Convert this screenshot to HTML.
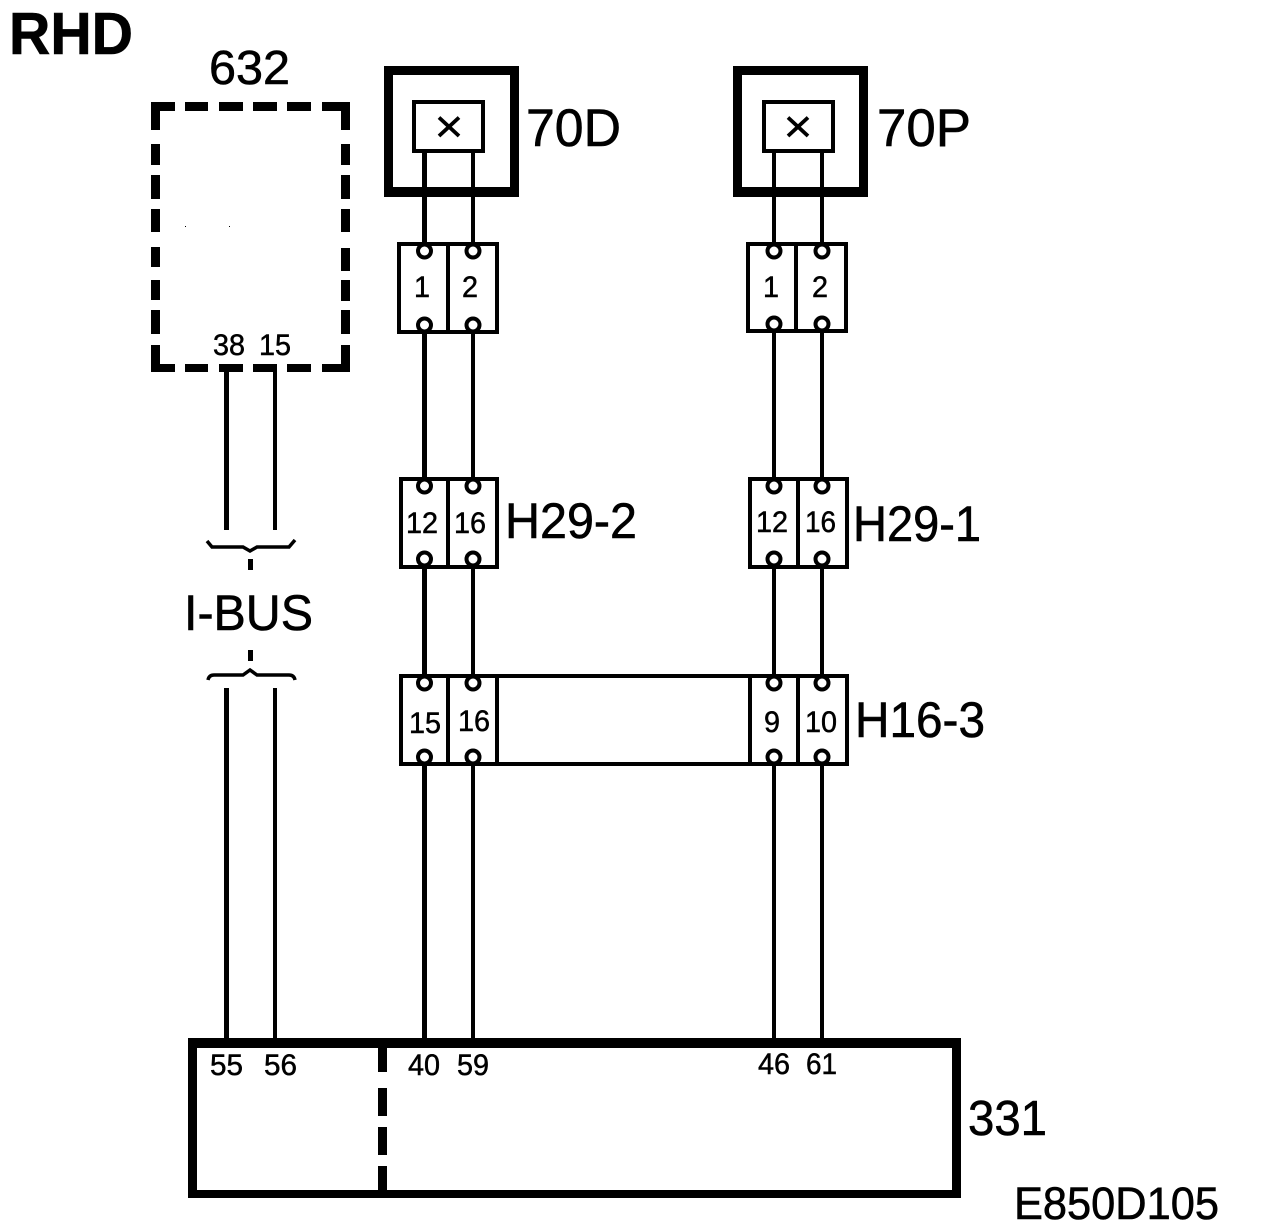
<!DOCTYPE html>
<html><head><meta charset="utf-8"><style>
html,body{margin:0;padding:0;background:#fff}
svg{display:block}
text{font-family:"Liberation Sans",sans-serif;fill:#000;stroke:#000;stroke-width:.6px}
.s{font-size:30px;stroke-width:.5px}
</style></head><body>
<svg width="1264" height="1232" viewBox="0 0 1264 1232" xmlns="http://www.w3.org/2000/svg">
<rect width="1264" height="1232" fill="#fff"/>
<!-- 632 dashed box -->
<g fill="#000">
<path d="M151 102H175V111H160V130H151Z"/>
<rect x="185" y="102" width="23" height="9"/><rect x="219" y="102" width="24" height="9"/><rect x="253" y="102" width="24" height="9"/><rect x="287" y="102" width="24" height="9"/>
<path d="M322 102H350V130H341V111H322Z"/>
<rect x="151" y="144" width="9" height="21"/><rect x="151" y="175" width="9" height="24"/><rect x="151" y="209" width="9" height="23"/><rect x="151" y="247" width="9" height="20"/><rect x="151" y="280" width="9" height="20"/><rect x="151" y="310" width="9" height="24"/>
<rect x="341" y="144" width="9" height="21"/><rect x="341" y="175" width="9" height="24"/><rect x="341" y="209" width="9" height="23"/><rect x="341" y="248" width="9" height="23"/><rect x="341" y="280" width="9" height="21"/><rect x="341" y="310" width="9" height="24"/>
<path d="M151 345H160V364H175V372H151Z"/>
<rect x="185" y="364" width="23" height="8"/><rect x="219" y="364" width="24" height="8"/><rect x="253" y="364" width="24" height="8"/><rect x="287" y="364" width="24" height="8"/>
<path d="M341 345H350V372H322V364H341Z"/>
<rect x="185" y="226" width="1" height="1"/><rect x="229" y="226" width="1" height="1"/>
<!-- left wires -->
<rect x="224" y="372" width="5" height="158"/><rect x="273" y="372" width="4" height="158"/>
<rect x="224" y="688" width="5" height="352"/><rect x="273" y="688" width="4" height="352"/>
<rect x="248" y="559" width="5" height="11"/><rect x="248" y="650" width="5" height="11"/>
<!-- 70D -->
<path fill-rule="evenodd" d="M384 66H519V197H384ZM393 75V187H510V75Z"/>
<!-- 70P -->
<path fill-rule="evenodd" d="M733 66H868V197H733ZM742 75V187H859V75Z"/>
<!-- wires -->
<rect x="422" y="153" width="5" height="90"/><rect x="471" y="153" width="4" height="90"/>
<rect x="422" y="333" width="5" height="145"/><rect x="471" y="333" width="4" height="145"/>
<rect x="422" y="568" width="5" height="108"/><rect x="471" y="568" width="4" height="108"/>
<rect x="422" y="765" width="5" height="275"/><rect x="471" y="765" width="4" height="275"/>
<rect x="772" y="153" width="4" height="90"/><rect x="820" y="153" width="4" height="90"/>
<rect x="772" y="333" width="4" height="145"/><rect x="820" y="333" width="4" height="145"/>
<rect x="772" y="568" width="4" height="108"/><rect x="820" y="568" width="4" height="108"/>
<rect x="772" y="765" width="4" height="275"/><rect x="820" y="765" width="4" height="275"/>
<!-- 331 box -->
<path fill-rule="evenodd" d="M188 1038H961V1198H188ZM197 1048V1190H952V1048Z"/>
<rect x="378" y="1048" width="9" height="24"/><rect x="378" y="1088" width="9" height="28"/><rect x="378" y="1127" width="9" height="28"/><rect x="378" y="1166" width="9" height="24"/>
</g>
<g fill="#fff" stroke="#000" stroke-width="4">
<rect x="414" y="102" width="69" height="49"/>
<rect x="764" y="102" width="69" height="49"/>
</g>
<g stroke="#000" stroke-width="3.8" fill="none">
<path d="M439 117.5L459 136M459 117.5L439 136"/>
<path d="M788 117.5L808 136M808 117.5L788 136"/>
</g>
<!-- connector frames -->
<g fill="none" stroke="#000" stroke-width="4">
<rect x="399" y="244" width="98" height="88"/><path d="M448 244V332"/>
<rect x="748" y="244" width="98" height="87"/><path d="M796 244V331"/>
<rect x="401" y="479" width="96" height="88"/><path d="M448 479V567"/>
<rect x="750" y="479" width="97" height="88"/><path d="M798 479V567"/>
<rect x="401" y="676" width="446" height="88"/><path d="M448 676V764M497 676V764M750 676V764M798 676V764"/>
</g>
<!-- pins -->
<g fill="#fff" stroke="#000" stroke-width="4">
<circle cx="424.5" cy="251" r="6.5"/><circle cx="473" cy="251" r="6.5"/><circle cx="424.5" cy="325" r="6.5"/><circle cx="473" cy="325" r="6.5"/>
<circle cx="774" cy="251" r="6.5"/><circle cx="822" cy="251" r="6.5"/><circle cx="774" cy="324" r="6.5"/><circle cx="822" cy="324" r="6.5"/>
<circle cx="424.5" cy="486" r="6.5"/><circle cx="473" cy="486" r="6.5"/><circle cx="424.5" cy="559" r="6.5"/><circle cx="473" cy="559" r="6.5"/>
<circle cx="774" cy="486" r="6.5"/><circle cx="822" cy="486" r="6.5"/><circle cx="774" cy="559" r="6.5"/><circle cx="822" cy="559" r="6.5"/>
<circle cx="424.5" cy="683" r="6.5"/><circle cx="473" cy="683" r="6.5"/><circle cx="424.5" cy="757" r="6.5"/><circle cx="473" cy="757" r="6.5"/>
<circle cx="774" cy="683" r="6.5"/><circle cx="822" cy="683" r="6.5"/><circle cx="774" cy="757" r="6.5"/><circle cx="822" cy="757" r="6.5"/>
</g>
<!-- braces -->
<g fill="none" stroke="#000" stroke-width="3.5">
<path d="M207 541L212 547H243L250 551L257 547H289L295 540"/>
<path d="M208 680Q209 675 214 675H243L250 670L257 675H289Q294 675 295 680"/>
</g>
<!-- labels -->
<text x="9" y="54" font-size="59" font-weight="bold" textLength="124" lengthAdjust="spacingAndGlyphs">RHD</text>
<text x="209" y="84" font-size="48" textLength="81" lengthAdjust="spacingAndGlyphs">632</text>
<text x="526" y="146" font-size="53" textLength="95" lengthAdjust="spacingAndGlyphs">70D</text>
<text x="877" y="146" font-size="53" textLength="94" lengthAdjust="spacingAndGlyphs">70P</text>
<text x="505" y="538" font-size="50" textLength="132" lengthAdjust="spacingAndGlyphs">H29-2</text>
<text x="853" y="541" font-size="50" textLength="128" lengthAdjust="spacingAndGlyphs">H29-1</text>
<text x="855" y="737" font-size="50" textLength="130" lengthAdjust="spacingAndGlyphs">H16-3</text>
<text x="184" y="630" font-size="50" textLength="129" lengthAdjust="spacingAndGlyphs">I-BUS</text>
<text x="968" y="1135" font-size="49" textLength="79" lengthAdjust="spacingAndGlyphs">331</text>
<text x="1014" y="1219" font-size="45" textLength="205" lengthAdjust="spacingAndGlyphs">E850D105</text>
<text class="s" x="213" y="355" textLength="32" lengthAdjust="spacingAndGlyphs">38</text><text class="s" x="259" y="355" textLength="32" lengthAdjust="spacingAndGlyphs">15</text>
<text class="s" x="414" y="297" textLength="16" lengthAdjust="spacingAndGlyphs">1</text><text class="s" x="462" y="297" textLength="16" lengthAdjust="spacingAndGlyphs">2</text>
<text class="s" x="763" y="297" textLength="16" lengthAdjust="spacingAndGlyphs">1</text><text class="s" x="812" y="297" textLength="16" lengthAdjust="spacingAndGlyphs">2</text>
<text class="s" x="406" y="533" textLength="32" lengthAdjust="spacingAndGlyphs">12</text><text class="s" x="454" y="533" textLength="32" lengthAdjust="spacingAndGlyphs">16</text>
<text class="s" x="756" y="532" textLength="32" lengthAdjust="spacingAndGlyphs">12</text><text class="s" x="805" y="532" textLength="31" lengthAdjust="spacingAndGlyphs">16</text>
<text class="s" x="409" y="733" textLength="32" lengthAdjust="spacingAndGlyphs">15</text><text class="s" x="458" y="731" textLength="32" lengthAdjust="spacingAndGlyphs">16</text>
<text class="s" x="764" y="732" textLength="16" lengthAdjust="spacingAndGlyphs">9</text><text class="s" x="805" y="732" textLength="32" lengthAdjust="spacingAndGlyphs">10</text>
<text class="s" x="210" y="1075" textLength="33" lengthAdjust="spacingAndGlyphs">55</text><text class="s" x="264" y="1075" textLength="33" lengthAdjust="spacingAndGlyphs">56</text>
<text class="s" x="408" y="1075" textLength="32" lengthAdjust="spacingAndGlyphs">40</text><text class="s" x="457" y="1075" textLength="32" lengthAdjust="spacingAndGlyphs">59</text>
<text class="s" x="758" y="1074" textLength="32" lengthAdjust="spacingAndGlyphs">46</text><text class="s" x="806" y="1074" textLength="31" lengthAdjust="spacingAndGlyphs">61</text>
</svg>
</body></html>
